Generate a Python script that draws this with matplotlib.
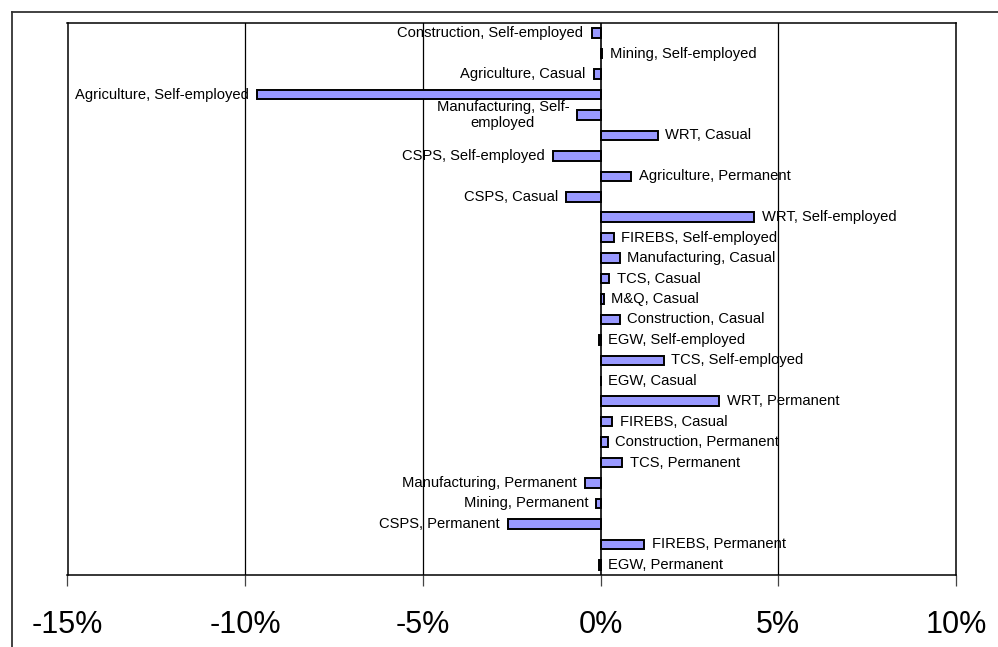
import matplotlib
matplotlib.use('Agg')
import matplotlib.pyplot as plt
from matplotlib import font_manager
from matplotlib.lines import Line2D
from matplotlib.ticker import FuncFormatter

# data: change by sector and employment type (%), top to bottom
labels = ["Construction, Self-employed", "Mining, Self-employed", "Agriculture, Casual",
          "Agriculture, Self-employed", "Manufacturing, Self-\nemployed", "WRT, Casual",
          "CSPS, Self-employed", "Agriculture, Permanent", "CSPS, Casual",
          "WRT, Self-employed", "FIREBS, Self-employed", "Manufacturing, Casual",
          "TCS, Casual", "M&Q, Casual", "Construction, Casual", "EGW, Self-employed",
          "TCS, Self-employed", "EGW, Casual", "WRT, Permanent", "FIREBS, Casual",
          "Construction, Permanent", "TCS, Permanent", "Manufacturing, Permanent",
          "Mining, Permanent", "CSPS, Permanent", "FIREBS, Permanent", "EGW, Permanent"]
values = [-0.25, 0.04, -0.19, -9.67, -0.65, 1.61, -1.34, 0.86, -0.97, 4.32, 0.37, 0.54,
          0.24, 0.09, 0.54, -0.04, 1.77, 0.0, 3.33, 0.32, 0.2, 0.6, -0.44, -0.12, -2.6,
          1.23, -0.04]
xticks = [-15, -10, -5, 0, 5, 10]

names = {f.name for f in font_manager.fontManager.ttflist}
if 'Liberation Sans Narrow' in names:
    tick_font, tick_size = 'Liberation Sans Narrow', 24
else:
    tick_font, tick_size = 'Liberation Sans', 22

plt.rcParams['font.family'] = ['Liberation Sans', 'DejaVu Sans']

fig = plt.figure(figsize=(9.98, 6.47), dpi=100)
ax = fig.add_axes([67.5 / 998, 72 / 647, 888.5 / 998, 552 / 647])

y = list(range(len(values)))
ax.barh(y, values, height=0.47, color='#9999FF', edgecolor='black', linewidth=1.4, zorder=3)

for xv in [-10, -5, 5]:
    ax.axvline(xv, color='black', linewidth=0.9, zorder=1)
ax.axvline(0, color='black', linewidth=1.2, zorder=4)

for yi, v, lab in zip(y, values, labels):
    if v < -0.05:
        ax.annotate(lab, (v, yi), xytext=(-6, 0), textcoords='offset points',
                    ha='right', va='center', fontsize=10.6, multialignment='center', zorder=5)
    else:
        ax.annotate(lab, (max(v, 0), yi), xytext=(5.5, 0), textcoords='offset points',
                    ha='left', va='center', fontsize=10.6, zorder=5)

ax.set_xlim(-15, 10)
ax.set_ylim(len(values) - 0.5, -0.5)
ax.set_yticks([])
ax.set_xticks(xticks)
ax.xaxis.set_major_formatter(FuncFormatter(lambda v, p: f"{v:.0f}%"))
ax.tick_params(axis='x', direction='out', length=8, width=0.9, color='#444444', pad=17)
for t in ax.get_xticklabels():
    t.set_fontfamily(tick_font)
    t.set_fontsize(tick_size)
for s in ax.spines.values():
    s.set_linewidth(1.1)
    s.set_color('black')

# outer chart border (left and top only visible)
fig.add_artist(Line2D([12 / 998, 12 / 998], [0, 1 - 12 / 647], transform=fig.transFigure,
                      color='#333333', linewidth=1.3))
fig.add_artist(Line2D([12 / 998, 1], [1 - 12 / 647, 1 - 12 / 647], transform=fig.transFigure,
                      color='#333333', linewidth=1.3))

fig.savefig('out.png', dpi=100)
